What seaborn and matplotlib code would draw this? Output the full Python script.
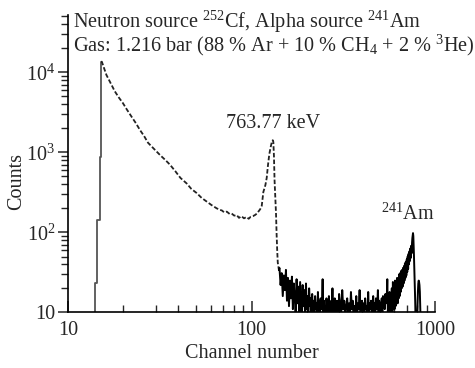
import numpy as np
import pandas as pd
import matplotlib
matplotlib.use("Agg")
import matplotlib.pyplot as plt
from matplotlib.ticker import FixedLocator, FixedFormatter, LogLocator, NullFormatter
import seaborn as sns

# ---------------- data ----------------
# rising edge of the spectrum (channel, counts)
edge_channel = [14.0, 14.0, 14.45, 14.45, 14.95, 14.95, 15.15, 15.15]
edge_counts = [7, 23, 23, 143, 143, 880, 880, 13500]

# smooth part: neutron continuum + 763.77 keV peak
smooth_channel = [15.15, 15.3, 16.2, 17.0, 18.0, 19.0, 19.9, 21.0, 22.2, 23.5, 24.7, 26.0,
                  27.3, 29.5, 31.7, 34.0, 36.0, 38.5, 41.0, 44.3, 47.0, 50.3, 53.5,
                  57.0, 60.5, 64.6, 67.0, 69.0, 71.0, 73.3, 76.0, 78.0, 80.5, 83.0, 85.5,
                  88.0, 91.0, 94.0, 96.5, 99.0, 102.0, 104.5, 107.0, 109.0, 111.5, 113.7,
                  116.0, 119.0, 121.0, 123.0, 125.0, 127.0, 129.0, 130.5, 131.5, 132.5,
                  133.5, 135.0, 136.0, 137.0, 138.0, 139.0, 141.0]
smooth_counts = [13500, 13600, 9300, 7500, 5800, 4800, 4150, 3400, 2800, 2300, 1900, 1600,
                 1320, 1100, 930, 800, 700, 580, 480, 410, 350, 310, 270,
                 243, 220, 200, 192, 188, 178, 182, 170, 172, 162, 165, 152,
                 160, 150, 156, 148, 157, 160, 165, 172, 182, 195, 215,
                 320, 390, 480, 700, 950, 1150, 1350, 1420, 1350, 900,
                 450, 250, 170, 95, 60, 42, 34]

# noisy floor, channels 142..300 every 2 channels
floor1_start, floor1_step = 142, 2
floor1_counts = [36, 22, 31, 16, 29, 19, 34, 14, 27, 12, 25, 15, 28, 11, 23, 16, 9, 26, 13, 21,
                 10, 24, 14, 8, 22, 12, 19, 9, 23, 11, 16, 8, 20, 12, 15, 9, 17, 10, 14, 8,
                 16, 11, 13, 9, 18, 10, 14, 8, 15, 11, 13, 26, 9, 14, 10, 12, 8, 15, 11, 13,
                 9, 16, 10, 12, 8, 14, 11, 20, 9, 13, 10, 15, 8, 12, 11, 14, 9, 13, 10, 17]

# noisy floor, channels 304..540 every 4 channels
floor2_start, floor2_step = 304, 4
floor2_counts = [13, 9, 19, 11, 14, 8, 12, 15, 10, 13,
                 9, 18, 11, 14, 8, 12, 10, 16, 9, 13,
                 11, 19, 8, 12, 14, 10, 13, 9, 15, 11,
                 12, 8, 18, 10, 13, 11, 14, 9, 12, 16,
                 10, 13, 8, 15, 11, 12, 19, 10, 14, 9,
                 13, 11, 15, 10, 16, 12, 14, 11, 17, 13]

# 241Am alpha peak region
am_channel = [545, 549, 553, 557, 561, 565, 569, 573, 577, 581, 585, 589, 593, 597, 601, 605,
              609, 613, 617, 621, 625, 629, 633, 637, 641, 645, 649, 653, 657, 661, 665, 669,
              673, 677, 681, 685, 689, 693, 697, 701, 705, 709, 713, 717, 721, 725, 729, 733,
              737, 741, 745, 749, 752, 755, 758, 761, 764, 767, 770, 773, 776, 779, 782, 786,
              790, 794, 798, 802, 806, 810, 814, 818, 822, 826, 830, 834, 838]
am_counts = [14, 26, 10, 16, 11, 18, 9, 17, 12, 20, 10, 24, 13, 21, 11, 25,
             12, 23, 14, 27, 13, 26, 15, 30, 16, 31, 18, 33, 20, 34, 21, 36,
             23, 38, 25, 41, 27, 43, 29, 46, 32, 50, 35, 54, 40, 58, 44, 63,
             48, 68, 55, 75, 85, 92, 98, 90, 70, 52, 38, 28, 20, 14, 9, 7,
             8, 6, 9, 12, 18, 23, 25, 24, 22, 18, 12, 8, 5]

x_ticks = [10, 100, 1000]
x_tick_labels = ["10", "100", "1000"]
y_ticks = [10, 100, 1000, 10000]
y_tick_labels = ["10", "$10^2$", "$10^3$", "$10^4$"]

header_lines = ["Neutron source $^{252}$Cf, Alpha source $^{241}$Am",
                "Gas: 1.216 bar (88 % Ar + 10 % CH$_4$ + 2 % $^{3}$He)"]
peak_label = "763.77 keV"
am_label = "$^{241}$Am"
x_label = "Channel number"
y_label = "Counts"

# ---------------- build tables ----------------
floor1_channel = floor1_start + floor1_step * np.arange(len(floor1_counts))
floor2_channel = floor2_start + floor2_step * np.arange(len(floor2_counts))
noisy = pd.DataFrame({
    "channel": np.concatenate([[141.0], floor1_channel, floor2_channel, am_channel]),
    "counts": np.concatenate([[34], floor1_counts, floor2_counts, am_counts]),
})
edge = pd.DataFrame({"channel": edge_channel, "counts": edge_counts})
smooth = pd.DataFrame({"channel": smooth_channel, "counts": smooth_counts})

# ---------------- style ----------------
sns.set_style("ticks")
plt.rcParams["font.family"] = ["Liberation Serif", "DejaVu Serif"]
plt.rcParams["mathtext.fontset"] = "custom"
plt.rcParams["mathtext.rm"] = "Liberation Serif"
plt.rcParams["mathtext.it"] = "Liberation Serif:italic"
plt.rcParams["mathtext.bf"] = "Liberation Serif:bold"

fig = plt.figure(figsize=(4.75, 3.68), dpi=100)
ax = fig.add_axes([0.143, 0.151, 0.916 - 0.143, 0.959 - 0.151])

sns.lineplot(data=edge, x="channel", y="counts", estimator=None, sort=False,
             color="#555555", linewidth=1.3, ax=ax)
sns.lineplot(data=smooth, x="channel", y="counts", estimator=None, sort=False,
             color="#222222", linewidth=1.3, linestyle=(0, (2.5, 1.2)), ax=ax)
sns.lineplot(data=noisy, x="channel", y="counts", estimator=None, sort=False,
             color="black", linewidth=1.4, ax=ax)

ax.set_xscale("log")
ax.set_yscale("log")
ax.set_xlim(10, 1000)
ax.set_ylim(10, 52000)

ax.xaxis.set_major_locator(FixedLocator(x_ticks))
ax.xaxis.set_major_formatter(FixedFormatter(x_tick_labels))
ax.xaxis.set_minor_locator(LogLocator(base=10, subs=np.arange(2, 10)))
ax.xaxis.set_minor_formatter(NullFormatter())
ax.yaxis.set_major_locator(FixedLocator(y_ticks))
ax.yaxis.set_major_formatter(FixedFormatter(y_tick_labels))
ax.yaxis.set_minor_locator(LogLocator(base=10, subs=np.arange(2, 10)))
ax.yaxis.set_minor_formatter(NullFormatter())

ax.tick_params(axis="x", which="major", direction="in", length=8, width=1.1, labelsize=14.5, pad=6)
ax.tick_params(axis="x", which="minor", direction="in", length=5, width=1.0)
ax.tick_params(axis="y", which="major", direction="out", length=7, width=1.1, labelsize=14.5, pad=2)
ax.tick_params(axis="y", which="minor", direction="out", length=5, width=1.0)

for side in ["top", "right"]:
    ax.spines[side].set_visible(False)
for side in ["left", "bottom"]:
    ax.spines[side].set_linewidth(1.2)
    ax.spines[side].set_color("black")

ax.set_xlabel(x_label, fontsize=14.5)
ax.set_ylabel(y_label, fontsize=14.5)
ax.xaxis.set_label_coords(0.5, -0.105)
ax.yaxis.set_label_coords(-0.115, 0.44)

ax.text(0.014, 0.978, header_lines[0], transform=ax.transAxes, fontsize=14.6,
        ha="left", va="center")
ax.text(0.014, 0.898, header_lines[1], transform=ax.transAxes, fontsize=14.6,
        ha="left", va="center")
ax.text(131, 2270, peak_label, fontsize=14.5, ha="center", va="center")
ax.text(713, 170, am_label, fontsize=14.5, ha="center", va="center")

fig.savefig("out.png", dpi=100)
